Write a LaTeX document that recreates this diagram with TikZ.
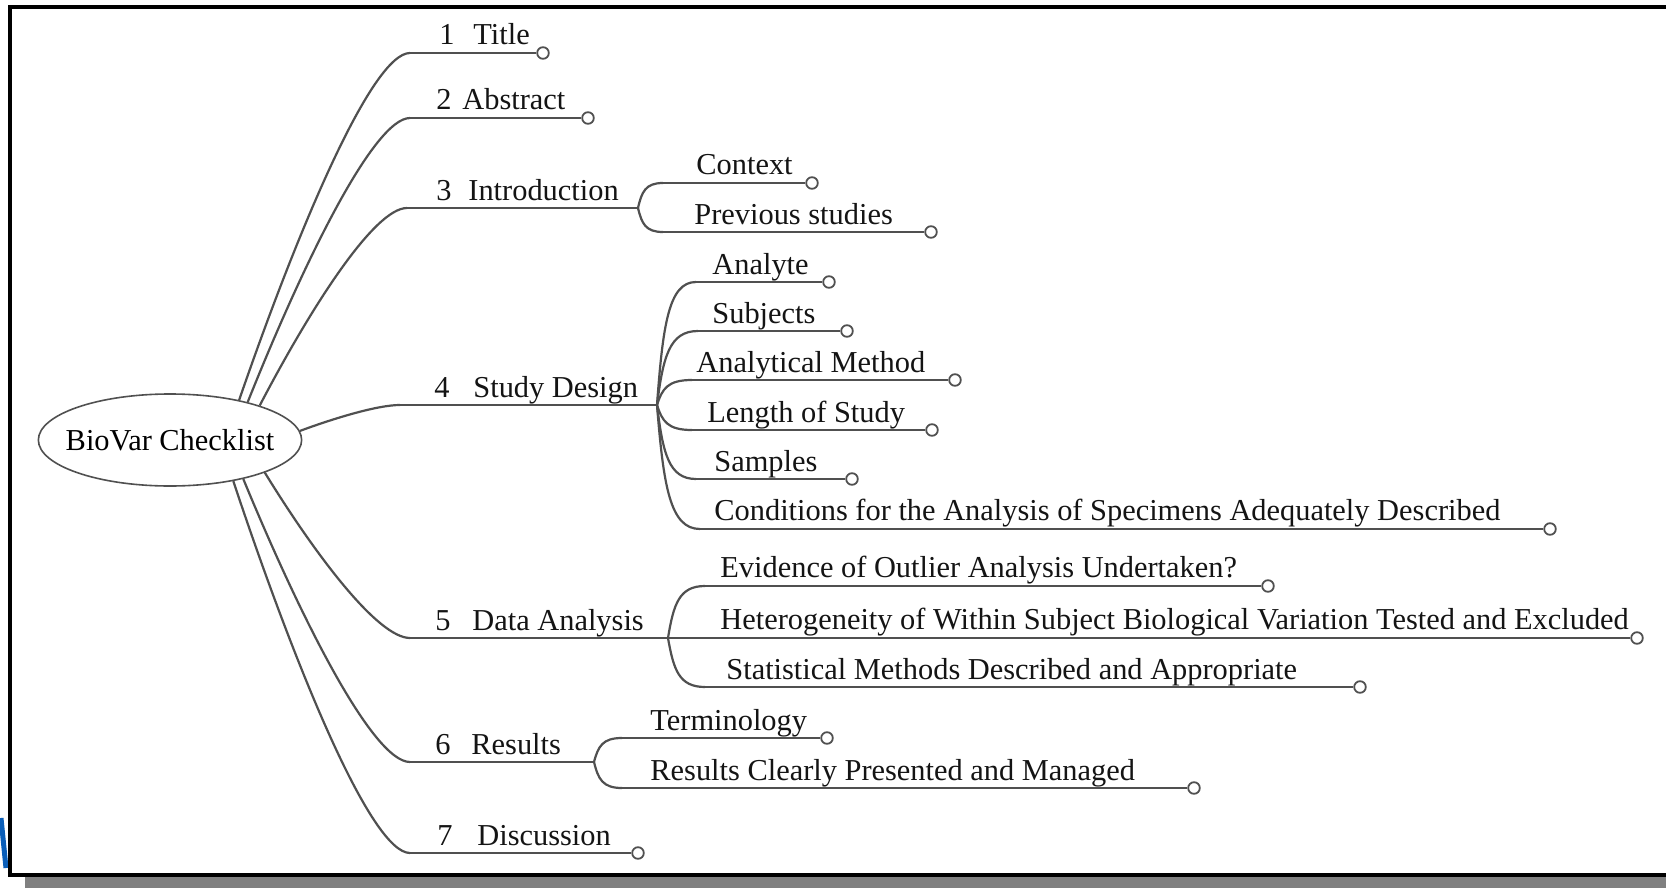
\documentclass[tikz,border=0pt]{standalone}
\usepackage{fontspec}
\setmainfont{Liberation Serif}
\usetikzlibrary{calc,shapes.geometric}
\definecolor{conncol}{HTML}{505050}
\definecolor{shadowcol}{HTML}{808080}
\definecolor{bluemark}{RGB}{10,94,184}
\tikzset{
  conn/.style={draw=conncol,line width=1.1pt},
  endc/.style={circle,draw=conncol,line width=0.9pt,fill=white,minimum size=5.8pt,inner sep=0pt},
  lbl/.style={anchor=base west,inner sep=0pt,font=\fontsize{15.2}{18}\selectfont,text=black!92},
  rootnode/.style={ellipse,draw=conncol,line width=0.8pt,minimum height=46pt,inner xsep=-5.6pt,inner ysep=0pt,font=\fontsize{15.2}{18}\selectfont}
}
\newcommand{\bcurve}[2]{\draw[conn] let \p1=(#1), \p2=(#2) in (\p1) .. controls ({\x1+0.35*(\x2-\x1)},{\y1+0.5*(\y2-\y1)}) and ({\x2-0.22*(\x2-\x1)},{\y2}) .. (\p2);}
\newcommand{\scurve}[2]{\draw[conn] let \p1=(#1), \p2=(#2) in (\p1) .. controls ({\x1+0.15*(\x2-\x1)},{\y1+0.65*(\y2-\y1)}) and ({\x2-0.7*(\x2-\x1)},{\y2}) .. (\p2);}
\begin{document}
\begin{tikzpicture}[x=0.5pt,y=-0.5pt]
\useasboundingbox (0,0) rectangle (1666,888);
% frame
\fill[white] (0,0) rectangle (1666,888);
\draw[bluemark,line width=2.5pt] (1,818) -- (6,868);
\fill[shadowcol] (25,877) rectangle (1666,888);
\draw[black,line width=2pt] (1666,7) -- (10,7) -- (10,875) -- (1666,875);

% root
\node[rootnode] (root) at (170,440) {BioVar Checklist};

% main branch junctions
\coordinate (h1) at (410,53);
\coordinate (h2) at (410,118);
\coordinate (h3) at (407,208);
\coordinate (h4) at (400,405);
\coordinate (h5) at (410,638);
\coordinate (h6) at (410,762);
\coordinate (h7) at (410,853);
\coordinate (b3) at (638,208);
\coordinate (b4) at (657,405);
\coordinate (b5) at (668,638);
\coordinate (b6) at (594,762);

\bcurve{root.30}{h1}
\bcurve{root.26}{h2}
\bcurve{root.21}{h3}
\bcurve{root.4}{h4}
\bcurve{root.-19}{h5}
\bcurve{root.-28}{h6}
\bcurve{root.-33}{h7}

% end circles of main branches
\node[endc] (e1) at (543,53) {};
\node[endc] (e2) at (588,118) {};
\node[endc] (e7) at (638,853) {};
\draw[conn] (h1) -- (e1);
\draw[conn] (h2) -- (e2);
\draw[conn] (h7) -- (e7);
\draw[conn] (h3) -- (b3);
\draw[conn] (h4) -- (b4);
\draw[conn] (h5) -- (b5);
\draw[conn] (h6) -- (b6);

% introduction
\coordinate (s31) at (663,183);
\coordinate (s32) at (663,232);
\node[endc] (c31) at (812,183) {};
\node[endc] (c32) at (931,232) {};
\scurve{b3}{s31} \draw[conn] (s31) -- (c31);
\scurve{b3}{s32} \draw[conn] (s32) -- (c32);

% study design
\coordinate (s41) at (696,282);
\coordinate (s42) at (698,331);
\coordinate (s43) at (692,380);
\coordinate (s44) at (692,430);
\coordinate (s45) at (696,479);
\coordinate (s46) at (700,529);
\node[endc] (c41) at (829,282) {};
\node[endc] (c42) at (847,331) {};
\node[endc] (c43) at (955,380) {};
\node[endc] (c44) at (932,430) {};
\node[endc] (c45) at (852,479) {};
\node[endc] (c46) at (1550,529) {};
\foreach \i in {1,...,6}{\scurve{b4}{s4\i} \draw[conn] (s4\i) -- (c4\i);}

% data analysis
\coordinate (s51) at (705,586);
\coordinate (s53) at (705,687);
\node[endc] (c51) at (1268,586) {};
\node[endc] (c52) at (1637,638) {};
\node[endc] (c53) at (1360,687) {};
\scurve{b5}{s51} \draw[conn] (s51) -- (c51);
\draw[conn] (b5) -- (c52);
\scurve{b5}{s53} \draw[conn] (s53) -- (c53);

% results
\coordinate (s61) at (622,738);
\coordinate (s62) at (622,788);
\node[endc] (c61) at (827,738) {};
\node[endc] (c62) at (1194,788) {};
\scurve{b6}{s61} \draw[conn] (s61) -- (c61);
\scurve{b6}{s62} \draw[conn] (s62) -- (c62);

% labels
\node[lbl] (n1) at (439,45) {1};
\node[lbl] (l1) at (473,45) {Title};
\node[lbl] (n2) at (436,110) {2};
\node[lbl] (l2) at (462,110) {Abstract};
\node[lbl] (n3) at (436,200) {3};
\node[lbl] (l3) at (468,200) {Introduction};
\node[lbl] (n4) at (434,397) {4};
\node[lbl] (l4) at (473,397) {Study Design};
\node[lbl] (n5) at (435,630) {5};
\node[lbl] (l5) at (472,630) {Data Analysis};
\node[lbl] (n6) at (435,754) {6};
\node[lbl] (l6) at (471,754) {Results};
\node[lbl] (n7) at (437,845) {7};
\node[lbl] (l7) at (477,845) {Discussion};

\node[lbl] (t31) at (696,175) {Context};
\node[lbl] (t32) at (694,224) {Previous studies};
\node[lbl] (t41) at (712,274) {Analyte};
\node[lbl] (t42) at (712,323) {Subjects};
\node[lbl] (t43) at (696,372) {Analytical Method};
\node[lbl] (t44) at (707,422) {Length of Study};
\node[lbl] (t45) at (714,471) {Samples};
\node[lbl] (t46) at (714,520) {Conditions for the Analysis of Specimens Adequately Described};
\node[lbl] (t51) at (720,577) {Evidence of Outlier Analysis Undertaken?};
\node[lbl] (t52) at (720,629) {Heterogeneity of Within Subject Biological Variation Tested and Excluded};
\node[lbl] (t53) at (726,679) {Statistical Methods Described and Appropriate};
\node[lbl] (t61) at (650,730) {Terminology};
\node[lbl] (t62) at (650,780) {Results Clearly Presented and Managed};
\end{tikzpicture}
\end{document}
